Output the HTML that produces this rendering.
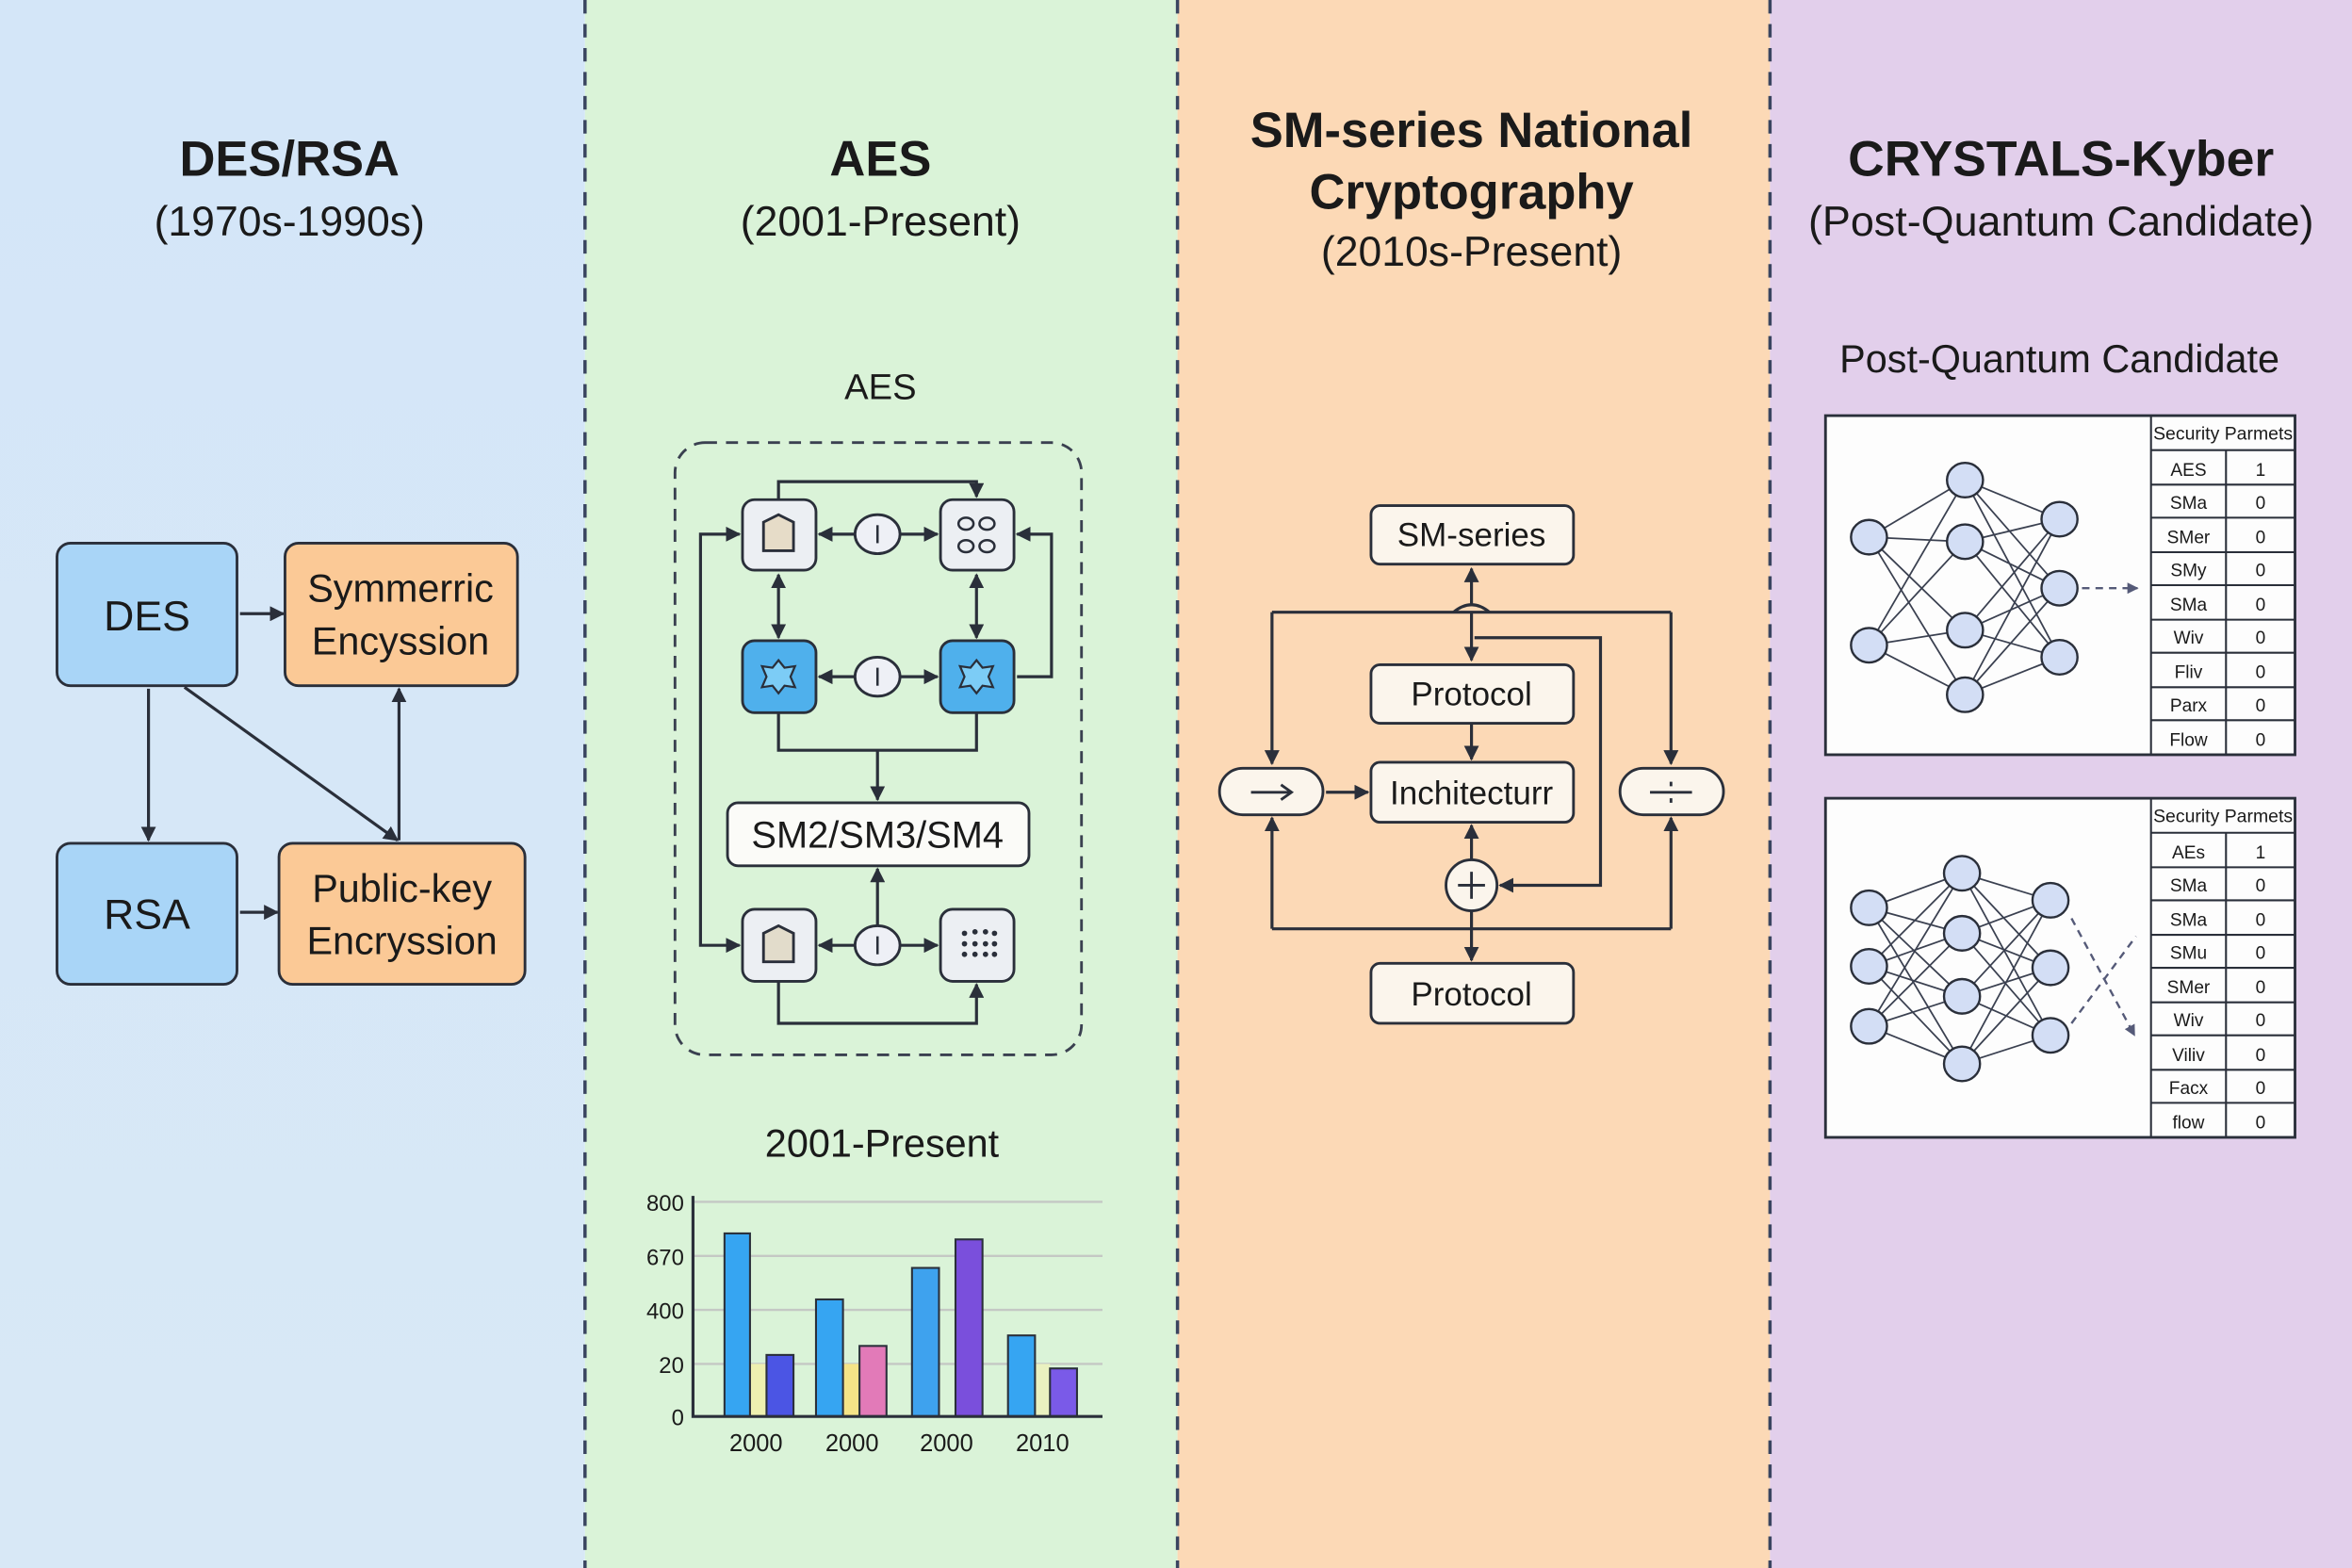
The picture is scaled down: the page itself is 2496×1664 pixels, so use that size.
<!DOCTYPE html>
<html><head><meta charset="utf-8"><style>
html,body{margin:0;padding:0;width:2496px;height:1664px;overflow:hidden}
svg{display:block}
text{font-family:"Liberation Sans",sans-serif;fill:#1a1a1a}
</style></head><body>
<svg width="2496" height="1664" viewBox="0 0 1568 1045" preserveAspectRatio="none" xmlns="http://www.w3.org/2000/svg">
<defs>
<marker id="a" viewBox="0 0 10 10" refX="9" refY="5" markerWidth="5" markerHeight="5" orient="auto-start-reverse"><path d="M0,0 L10,5 L0,10 z" fill="#2a2f3a"/></marker>
<marker id="ad" viewBox="0 0 10 10" refX="9" refY="5" markerWidth="5" markerHeight="5" orient="auto"><path d="M0,0 L10,5 L0,10 z" fill="#555a78"/></marker>
<linearGradient id="g1" x1="0" y1="0" x2="0" y2="1"><stop offset="0" stop-color="#d4e6f8"/><stop offset="1" stop-color="#d8e8f6"/></linearGradient>
</defs>
<rect x="0" y="0" width="390" height="1045" fill="url(#g1)"/>
<rect x="390" y="0" width="395" height="1045" fill="#daf3d8"/>
<rect x="785" y="0" width="395" height="1045" fill="#fcd9b6"/>
<rect x="1180" y="0" width="388" height="1045" fill="#e2cfeb"/>
<g stroke="#3a4560" stroke-width="2.2" stroke-dasharray="9,7">
<line x1="390" y1="0" x2="390" y2="1045"/><line x1="785" y1="0" x2="785" y2="1045"/><line x1="1180" y1="0" x2="1180" y2="1045"/>
</g>

<!-- titles -->
<g text-anchor="middle">
<text x="193" y="117" font-size="33" font-weight="bold" fill="#111">DES/RSA</text>
<text x="193" y="157" font-size="28">(1970s-1990s)</text>
<text x="587" y="117" font-size="33" font-weight="bold" fill="#111">AES</text>
<text x="587" y="157" font-size="28">(2001-Present)</text>
<text x="981" y="98" font-size="33" font-weight="bold" fill="#111" textLength="295" lengthAdjust="spacingAndGlyphs">SM-series National</text>
<text x="981" y="139" font-size="33" font-weight="bold" fill="#111">Cryptography</text>
<text x="981" y="177" font-size="28">(2010s-Present)</text>
<text x="1374" y="117" font-size="33" font-weight="bold" fill="#111" textLength="284" lengthAdjust="spacingAndGlyphs">CRYSTALS-Kyber</text>
<text x="1374" y="157" font-size="28" textLength="337" lengthAdjust="spacingAndGlyphs">(Post-Quantum Candidate)</text>
</g>

<!-- column 1 -->
<g stroke="#2a2f3a" stroke-width="1.8">
<rect x="38" y="362" width="120" height="95" rx="9" fill="#a9d5f7"/>
<rect x="190" y="362" width="155" height="95" rx="9" fill="#fbc996"/>
<rect x="38" y="562" width="120" height="94" rx="9" fill="#a9d5f7"/>
<rect x="186" y="562" width="164" height="94" rx="9" fill="#fbc996"/>
</g>
<g stroke="#2a2f3a" stroke-width="2" fill="none" marker-end="url(#a)">
<line x1="160" y1="409" x2="189" y2="409"/>
<line x1="99" y1="459" x2="99" y2="560"/>
<line x1="123" y1="458" x2="265" y2="560"/>
<line x1="266" y1="560" x2="266" y2="459"/>
<line x1="160" y1="608" x2="185" y2="608"/>
</g>
<g text-anchor="middle" font-size="28">
<text x="98" y="420">DES</text>
<text x="98" y="619">RSA</text>
<text x="267" y="401" font-size="26">Symmerric</text>
<text x="267" y="436" font-size="26">Encyssion</text>
<text x="268" y="601" font-size="26">Public-key</text>
<text x="268" y="636" font-size="26">Encryssion</text>
</g>

<!-- column 2 AES diagram -->
<text x="587" y="266" font-size="24" text-anchor="middle">AES</text>
<rect x="450" y="295" width="271" height="408" rx="20" fill="none" stroke="#3a4050" stroke-width="1.8" stroke-dasharray="8,6"/>
<g stroke="#2a2f3a" stroke-width="2" fill="none">
<polyline points="519,333 519,321 651,321 651,331" marker-end="url(#a)"/>
<line x1="570" y1="356" x2="546" y2="356" marker-end="url(#a)"/>
<line x1="600" y1="356" x2="625" y2="356" marker-end="url(#a)"/>
<line x1="570" y1="451" x2="546" y2="451" marker-end="url(#a)"/>
<line x1="600" y1="451" x2="625" y2="451" marker-end="url(#a)"/>
<line x1="570" y1="630" x2="546" y2="630" marker-end="url(#a)"/>
<line x1="600" y1="630" x2="625" y2="630" marker-end="url(#a)"/>
<line x1="519" y1="383" x2="519" y2="425" marker-start="url(#a)" marker-end="url(#a)"/>
<line x1="651" y1="383" x2="651" y2="425" marker-start="url(#a)" marker-end="url(#a)"/>
<polyline points="678,451 701,451 701,356 678,356" marker-end="url(#a)"/>
<polyline points="519,475 519,500 651,500 651,475"/>
<line x1="585" y1="500" x2="585" y2="533" marker-end="url(#a)"/>
<line x1="585" y1="617" x2="585" y2="579" marker-end="url(#a)"/>
<polyline points="493,356 467,356 467,630 493,630" marker-start="url(#a)" marker-end="url(#a)"/>
<polyline points="519,654 519,682 651,682 651,656" marker-end="url(#a)"/>
</g>
<g stroke="#2a2f3a" stroke-width="1.8">
<rect x="495" y="333" width="49" height="47" rx="8" fill="#eceff3"/>
<rect x="627" y="333" width="49" height="47" rx="8" fill="#eceff3"/>
<rect x="495" y="427" width="49" height="48" rx="8" fill="#4fb0ec"/>
<rect x="627" y="427" width="49" height="48" rx="8" fill="#4fb0ec"/>
<rect x="495" y="606" width="49" height="48" rx="8" fill="#eceff3"/>
<rect x="627" y="606" width="49" height="48" rx="8" fill="#eceff3"/>
<rect x="485" y="535" width="201" height="42" rx="7" fill="#fbfbf8"/>
<ellipse cx="585" cy="356" rx="15" ry="13" fill="#eef0f6"/>
<ellipse cx="585" cy="451" rx="15" ry="13" fill="#eef0f6"/>
<ellipse cx="585" cy="630" rx="15" ry="13" fill="#eef0f6"/>
<path d="M509,348 L519,343 L529,348 L529,367 L509,367 z" fill="#e6dcc8"/>
<path d="M509,622 L519,617 L529,622 L529,641 L509,641 z" fill="#e2dccb"/>
<path d="M519,440 L523,445 L530,444 L527,451 L530,458 L523,457 L519,462 L515,457 L508,458 L511,451 L508,444 L515,445 z" fill="#7cccf6" stroke-width="1.4"/>
<path d="M651,440 L655,445 L662,444 L659,451 L662,458 L655,457 L651,462 L647,457 L640,458 L643,451 L640,444 L647,445 z" fill="#7cccf6" stroke-width="1.4"/>
</g>
<g stroke="#2a2f3a" stroke-width="1.6" fill="none">
<ellipse cx="644" cy="349" rx="5" ry="4"/><ellipse cx="658" cy="349" rx="5" ry="4"/>
<ellipse cx="644" cy="364" rx="5" ry="4"/><ellipse cx="658" cy="364" rx="5" ry="4"/>
<line x1="585" y1="350" x2="585" y2="362"/><line x1="585" y1="445" x2="585" y2="457"/><line x1="585" y1="624" x2="585" y2="636"/>
</g>
<g fill="#2a2f3a">
<circle cx="643" cy="622" r="1.8"/><circle cx="650" cy="621" r="1.8"/><circle cx="657" cy="621" r="1.8"/><circle cx="663" cy="622" r="1.8"/>
<circle cx="643" cy="629" r="1.8"/><circle cx="650" cy="629" r="1.8"/><circle cx="657" cy="629" r="1.8"/><circle cx="663" cy="629" r="1.8"/>
<circle cx="643" cy="636" r="1.8"/><circle cx="650" cy="636" r="1.8"/><circle cx="657" cy="636" r="1.8"/><circle cx="663" cy="636" r="1.8"/>
</g>
<text x="585" y="565" font-size="25" text-anchor="middle">SM2/SM3/SM4</text>

<!-- chart -->
<text x="588" y="771" font-size="26" text-anchor="middle">2001-Present</text>
<g stroke="#c4c8c4" stroke-width="1.5">
<line x1="462" y1="801" x2="735" y2="801"/><line x1="462" y1="837" x2="735" y2="837"/>
<line x1="462" y1="873" x2="735" y2="873"/><line x1="462" y1="909" x2="735" y2="909"/>
</g>
<g font-size="15" text-anchor="end" fill="#333">
<text x="456" y="807">800</text><text x="456" y="843">670</text><text x="456" y="879">400</text><text x="456" y="915">20</text><text x="456" y="950">0</text>
</g>
<rect x="500" y="909" width="11" height="35" fill="#eef0b0"/>
<rect x="562" y="909" width="11" height="35" fill="#f5e487"/>
<rect x="690" y="909" width="10" height="35" fill="#eaf1c0"/>
<g stroke="#2a2f3a" stroke-width="1.3">
<rect x="483" y="822" width="17" height="122" fill="#36a5f2"/>
<rect x="511" y="903" width="18" height="41" fill="#4b55e4"/>
<rect x="544" y="866" width="18" height="78" fill="#36a5f2"/>
<rect x="573" y="897" width="18" height="47" fill="#e27ab8"/>
<rect x="608" y="845" width="18" height="99" fill="#3ea2ee"/>
<rect x="637" y="826" width="18" height="118" fill="#7a4fdc"/>
<rect x="672" y="890" width="18" height="54" fill="#36a5f2"/>
<rect x="700" y="912" width="18" height="32" fill="#7a5ae8"/>
</g>
<polyline points="462,797 462,944 735,944" fill="none" stroke="#2a2f3a" stroke-width="2"/>
<g font-size="16" text-anchor="middle" fill="#333">
<text x="504" y="967">2000</text><text x="568" y="967">2000</text><text x="631" y="967">2000</text><text x="695" y="967">2010</text>
</g>

<!-- column 3 -->
<g stroke="#2a2f3a" stroke-width="2" fill="none">
<polyline points="848,408 1114,408"/>
<line x1="848" y1="408" x2="848" y2="509" marker-end="url(#a)"/>
<line x1="1114" y1="408" x2="1114" y2="509" marker-end="url(#a)"/>
<line x1="981" y1="408" x2="981" y2="440" marker-end="url(#a)"/>
<line x1="981" y1="404" x2="981" y2="379" marker-end="url(#a)"/>
<path d="M969,408 Q981,398 993,408"/>
<polyline points="983,425 1067,425 1067,590 1000,590" marker-end="url(#a)"/>
<line x1="981" y1="482" x2="981" y2="506" marker-end="url(#a)"/>
<line x1="884" y1="528" x2="912" y2="528" marker-end="url(#a)"/>
<line x1="981" y1="573" x2="981" y2="550" marker-end="url(#a)"/>
<polyline points="848,619 1114,619"/>
<line x1="848" y1="619" x2="848" y2="545" marker-end="url(#a)"/>
<line x1="1114" y1="619" x2="1114" y2="545" marker-end="url(#a)"/>
<line x1="981" y1="607" x2="981" y2="640" marker-end="url(#a)"/>
</g>
<g stroke="#2a2f3a" stroke-width="1.8" fill="#fbf5ec">
<rect x="914" y="337" width="135" height="39" rx="6"/>
<rect x="914" y="443" width="135" height="39" rx="6"/>
<rect x="914" y="508" width="135" height="40" rx="6"/>
<rect x="914" y="642" width="135" height="40" rx="6"/>
<rect x="813" y="512" width="69" height="31" rx="15.5"/>
<rect x="1080" y="512" width="69" height="31" rx="15.5"/>
<circle cx="981" cy="590" r="17"/>
</g>
<g stroke="#2a2f3a" stroke-width="1.8" fill="none">
<line x1="972" y1="590" x2="990" y2="590"/><line x1="981" y1="581" x2="981" y2="599"/>
<line x1="834" y1="528" x2="861" y2="528"/><path d="M854,523 L861,528 L854,533"/>
<line x1="1100" y1="528" x2="1128" y2="528"/><line x1="1114" y1="521" x2="1114" y2="524"/><line x1="1114" y1="532" x2="1114" y2="535"/>
</g>
<g text-anchor="middle" font-size="22">
<text x="981" y="364">SM-series</text>
<text x="981" y="470">Protocol</text>
<text x="981" y="536">Inchitecturr</text>
<text x="981" y="670">Protocol</text>
</g>

<!-- column 4 -->
<text x="1373" y="248" font-size="26" text-anchor="middle">Post-Quantum Candidate</text>
<g stroke="#2a2f3a" stroke-width="1.8" fill="#fdfdfd">
<rect x="1217" y="277" width="313" height="226"/>
<rect x="1217" y="532" width="313" height="226"/>
</g>
<g id="nets" stroke="#3a4050" stroke-width="1.1"></g>
<g stroke="#555a78" stroke-width="1.5" stroke-dasharray="5,4" fill="none">
<line x1="1388" y1="392" x2="1425" y2="392" marker-end="url(#ad)"/>
<line x1="1381" y1="612" x2="1423" y2="690" marker-end="url(#ad)"/>
<line x1="1381" y1="682" x2="1424" y2="624"/>
</g>
<g id="nodes" fill="#d3def5" stroke="#2a2f3a" stroke-width="1.5"></g>

<!-- tables -->
<g stroke="#2a2f3a" stroke-width="1.3" fill="none">
<line x1="1434" y1="277" x2="1434" y2="503"/>
<line x1="1484" y1="300" x2="1484" y2="503"/>
<line x1="1434" y1="532" x2="1434" y2="758"/>
<line x1="1484" y1="555" x2="1484" y2="758"/>
<path d="M1434,300H1530 M1434,323H1530 M1434,345H1530 M1434,368H1530 M1434,390H1530 M1434,413H1530 M1434,435H1530 M1434,458H1530 M1434,480H1530"/>
<path d="M1434,555H1530 M1434,578H1530 M1434,600H1530 M1434,623H1530 M1434,645H1530 M1434,668H1530 M1434,690H1530 M1434,713H1530 M1434,735H1530"/>
</g>
<g font-size="12" fill="#333" text-anchor="middle">
<text x="1482" y="293" textLength="93" lengthAdjust="spacingAndGlyphs">Security Parmets</text>
<text x="1459" y="317">AES</text><text x="1507" y="317">1</text>
<text x="1459" y="339">SMa</text><text x="1507" y="339">0</text>
<text x="1459" y="362">SMer</text><text x="1507" y="362">0</text>
<text x="1459" y="384">SMy</text><text x="1507" y="384">0</text>
<text x="1459" y="407">SMa</text><text x="1507" y="407">0</text>
<text x="1459" y="429">Wiv</text><text x="1507" y="429">0</text>
<text x="1459" y="452">Fliv</text><text x="1507" y="452">0</text>
<text x="1459" y="474">Parx</text><text x="1507" y="474">0</text>
<text x="1459" y="497">Flow</text><text x="1507" y="497">0</text>
<text x="1482" y="548" textLength="93" lengthAdjust="spacingAndGlyphs">Security Parmets</text>
<text x="1459" y="572">AEs</text><text x="1507" y="572">1</text>
<text x="1459" y="594">SMa</text><text x="1507" y="594">0</text>
<text x="1459" y="617">SMa</text><text x="1507" y="617">0</text>
<text x="1459" y="639">SMu</text><text x="1507" y="639">0</text>
<text x="1459" y="662">SMer</text><text x="1507" y="662">0</text>
<text x="1459" y="684">Wiv</text><text x="1507" y="684">0</text>
<text x="1459" y="707">Viliv</text><text x="1507" y="707">0</text>
<text x="1459" y="729">Facx</text><text x="1507" y="729">0</text>
<text x="1459" y="752">flow</text><text x="1507" y="752">0</text>
</g>
</svg>
<script>
var NS="http://www.w3.org/2000/svg";
var nets=[
 {L:[[1246,358],[1246,430]],M:[[1310,320],[1310,361],[1310,420],[1310,463]],R:[[1373,346],[1373,392],[1373,438]]},
 {L:[[1246,605],[1246,644],[1246,684]],M:[[1308,582],[1308,622],[1308,664],[1308,709]],R:[[1367,600],[1367,645],[1367,690]]}
];
var lg=document.getElementById('nets'),ng=document.getElementById('nodes');
function ln(a,b){var l=document.createElementNS(NS,'line');l.setAttribute('x1',a[0]);l.setAttribute('y1',a[1]);l.setAttribute('x2',b[0]);l.setAttribute('y2',b[1]);lg.appendChild(l);}
nets.forEach(function(n){
 n.L.forEach(function(a){n.M.forEach(function(b){ln(a,b);});});
 n.M.forEach(function(a){n.R.forEach(function(b){ln(a,b);});});
 n.L.concat(n.M,n.R).forEach(function(p){var e=document.createElementNS(NS,'ellipse');e.setAttribute('cx',p[0]);e.setAttribute('cy',p[1]);e.setAttribute('rx',12);e.setAttribute('ry',11.5);ng.appendChild(e);});
});
</script>
</body></html>
